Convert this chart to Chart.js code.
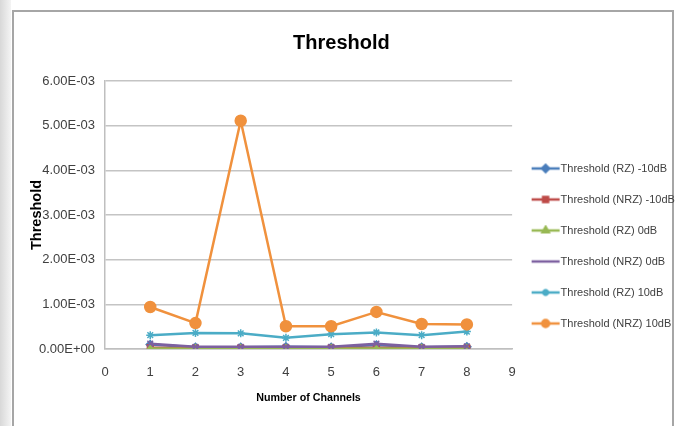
<!DOCTYPE html>
<html>
<head>
<meta charset="utf-8">
<script src="https://cdn.jsdelivr.net/npm/chart.js@4.4.0/dist/chart.umd.min.js"></script>
<style>
    html, body { margin: 0; padding: 0; background: #ffffff; }
    #wrap { position: relative; width: 685px; height: 426px; overflow: hidden; }
    #strip { position: absolute; left: 0; top: 0; width: 11px; height: 426px;
             background: linear-gradient(to right, #d8d8d8, #f4f4f4); }
    #frame { position: absolute; left: 12px; top: 10px; width: 658px; height: 440px;
             border: 2px solid #a6a6a6; background: #ffffff; }
    #chart { position: absolute; left: 0; top: 0; }
</style>
</head>
<body>
<div id="wrap">
    <div id="strip"></div>
    <div id="frame"></div>
    <canvas id="chart" width="685" height="426"></canvas>
</div>
<script>
// Threshold vs number of channels
const channels = [1, 2, 3, 4, 5, 6, 7, 8];
const rzMinus10 = [1.0e-4, 4.0e-5, 4.0e-5, 5.0e-5, 4.0e-5, 9.0e-5, 4.0e-5, 5.0e-5];
const nrzMinus10 = [3.0e-5, 2.0e-5, 2.0e-5, 2.0e-5, 2.0e-5, 3.0e-5, 2.0e-5, 2.0e-5];
const rz0 = [1.0e-5, 5.0e-6, 5.0e-6, 5.0e-6, 5.0e-6, 1.0e-5, 5.0e-6, 5.0e-6];
const nrz0 = [1.2e-4, 5.0e-5, 5.0e-5, 5.0e-5, 5.0e-5, 1.2e-4, 5.0e-5, 6.0e-5];
const rz10 = [3.1e-4, 3.6e-4, 3.5e-4, 2.5e-4, 3.3e-4, 3.7e-4, 3.1e-4, 3.9e-4];
const nrz10 = [9.4e-4, 5.8e-4, 5.11e-3, 5.1e-4, 5.1e-4, 8.3e-4, 5.6e-4, 5.5e-4];
const seriesNames = [
    'Threshold (RZ) -10dB',
    'Threshold (NRZ) -10dB',
    'Threshold (RZ) 0dB',
    'Threshold (NRZ) 0dB',
    'Threshold (RZ) 10dB',
    'Threshold (NRZ) 10dB'
];
const yTicks = [0, 0.001, 0.002, 0.003, 0.004, 0.005, 0.006];
const xTicks = [0, 1, 2, 3, 4, 5, 6, 7, 8, 9];

const colors = ['#4a7ebb', '#be4b48', '#98b954', '#7d60a0', '#4bacc6', '#f0913d'];
const markers = ['rectRot', 'rect', 'triangle', 'crossRot', 'star', 'circle'];
const radii = [4, 4, 4, 4, 4, 5.5];
const sans = "'Liberation Sans', Arial, sans-serif";

// legend geometry: rows 31px apart, text starts near x=558
const legendFontSize = 11;
const legendPad = 20;
const legendBox = 23;
// the legend ends up pad/2 narrower than the sum below, so aim 10px short
const plotRight = 500;

function legendIcon(i) {
    const c = document.createElement('canvas');
    c.width = 36;
    c.height = 12;
    const ctx = c.getContext('2d');
    ctx.strokeStyle = colors[i];
    ctx.lineWidth = 2.5;
    ctx.beginPath();
    ctx.moveTo(6, 6);
    ctx.lineTo(34, 6);
    ctx.stroke();
    if (markers[i] !== 'crossRot') {
        Chart.helpers.drawPoint(ctx, {
            pointStyle: markers[i], radius: 3.5, borderWidth: 1.5, rotation: 0
        }, 20, 6);
        ctx.fillStyle = colors[i];
        ctx.fill();
    }
    return c;
}

function formatTick(v) {
    return Number(v).toExponential(2).toUpperCase().replace(/E([+-])(\d)$/, 'E$10$2');
}

function makeDataset(i, values) {
    return {
        label: seriesNames[i],
        data: channels.map((x, k) => ({ x: x, y: values[k] })),
        order: seriesNames.length - i,
        borderColor: colors[i],
        backgroundColor: colors[i],
        pointStyle: markers[i],
        pointRadius: radii[i],
        pointBorderWidth: 1.5,
        pointBorderColor: colors[i],
        pointBackgroundColor: colors[i],
        borderWidth: 2.5,
        tension: 0
    };
}

// work out how wide the legend will be so the plot still ends near x=510
const measure = document.createElement('canvas').getContext('2d');
measure.font = legendFontSize + 'px ' + sans;
const maxText = Math.max(...seriesNames.map(n => measure.measureText(n).width));
const legendWidth = legendPad * 2 + legendBox + legendFontSize / 2 + maxText;
const padRight = 685 - plotRight - legendWidth;

const allSeries = [rzMinus10, nrzMinus10, rz0, nrz0, rz10, nrz10];

new Chart(document.getElementById('chart'), {
    type: 'line',
    data: {
        datasets: allSeries.map((s, i) => makeDataset(i, s))
    },
    options: {
        responsive: false,
        animation: false,
        layout: { padding: { left: 0, right: padRight, top: 0, bottom: 0 } },
        plugins: {
            title: {
                display: true,
                text: 'Threshold',
                color: '#000000',
                font: { family: sans, size: 20, weight: 'bold', lineHeight: 1.2 },
                padding: { top: 31, bottom: 26 }
            },
            legend: {
                position: 'right',
                align: 'end',
                fullSize: false,
                labels: {
                    usePointStyle: true,
                    pointStyleWidth: legendBox,
                    padding: legendPad,
                    color: '#404040',
                    font: { family: sans, size: legendFontSize },
                    generateLabels: (chart) => chart.data.datasets.map((ds, i) => ({
                        text: ds.label,
                        pointStyle: legendIcon(i),
                        fillStyle: colors[i],
                        strokeStyle: colors[i],
                        lineWidth: 0,
                        datasetIndex: i,
                        fontColor: '#404040'
                    }))
                }
            },
            tooltip: { enabled: false }
        },
        scales: {
            x: {
                type: 'linear',
                min: 0,
                max: 9,
                afterBuildTicks: (scale) => { scale.ticks = xTicks.map(v => ({ value: v })); },
                afterFit: (scale) => { scale.height = 77; },
                grid: { display: false, drawTicks: false },
                border: { display: true, color: '#bfbfbf', width: 1.5 },
                ticks: {
                    padding: 16,
                    color: '#404040',
                    font: { family: sans, size: 13 }
                },
                title: {
                    display: true,
                    text: 'Number of Channels',
                    color: '#000000',
                    font: { family: sans, size: 10.7, weight: 'bold' },
                    padding: { top: 0, bottom: 21.5 }
                }
            },
            y: {
                min: 0,
                max: 0.006,
                afterBuildTicks: (scale) => { scale.ticks = yTicks.map(v => ({ value: v })); },
                afterFit: (scale) => { scale.width = 105; },
                grid: { color: '#c4c4c4', lineWidth: 1.5, drawTicks: false },
                border: { display: true, color: '#bfbfbf', width: 1.5 },
                ticks: {
                    padding: 10,
                    color: '#404040',
                    font: { family: sans, size: 13 },
                    callback: (v) => formatTick(v)
                },
                title: {
                    display: true,
                    text: 'Threshold',
                    color: '#000000',
                    font: { family: sans, size: 14.5, weight: 'bold' },
                    padding: { top: 28, bottom: 0 }
                }
            }
        }
    }
});
</script>
</body>
</html>
